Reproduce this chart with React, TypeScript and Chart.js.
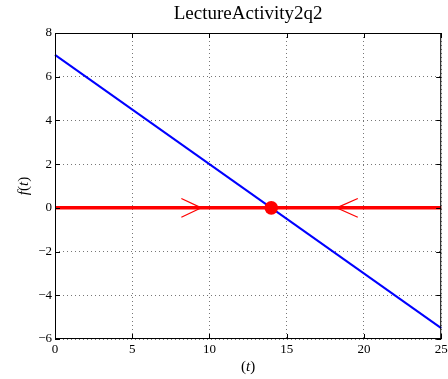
import React, { useEffect, useRef } from "react";
import { Chart, registerables } from "chart.js";

Chart.register(...registerables);

const titleText = "LectureActivity2q2";
const lineT = [0, 25];
const lineF = [7, -5.5];
const axisT = [0, 25];
const axisF = [0, 0];
const equilibriumT = [14];
const equilibriumF = [0];
const arrowRightT = [8.18, 9.47, 8.18];
const arrowRightF = [0.43, 0, -0.43];
const arrowLeftT = [19.6, 18.23, 19.6];
const arrowLeftF = [0.43, 0, -0.43];
const xTicks = [0, 5, 10, 15, 20, 25];
const yTicks = [-6, -4, -2, 0, 2, 4, 6, 8];

const pts = (xs: number[], ys: number[]) => xs.map((x, i) => ({ x, y: ys[i] }));
const fmt = (v: number) => (v < 0 ? "\u2212" + Math.abs(v) : String(v));
const SERIF = "'Liberation Serif', 'DejaVu Serif', serif";

const framePlugin = {
  id: "frame",
  afterDraw(chart: any) {
    const { ctx, chartArea: a, scales } = chart;
    ctx.save();
    ctx.strokeStyle = "#000";
    ctx.lineWidth = 1;
    ctx.strokeRect(a.left + 0.5, a.top + 0.5, a.right - a.left - 1, a.bottom - a.top - 1);
    const tl = 5;
    ctx.beginPath();
    xTicks.forEach((v) => {
      const x = Math.round(scales.x.getPixelForValue(v)) + 0.5;
      ctx.moveTo(x, a.bottom);
      ctx.lineTo(x, a.bottom - tl);
      ctx.moveTo(x, a.top);
      ctx.lineTo(x, a.top + tl);
    });
    yTicks.forEach((v) => {
      const y = Math.round(scales.y.getPixelForValue(v)) + 0.5;
      ctx.moveTo(a.left, y);
      ctx.lineTo(a.left + tl, y);
      ctx.moveTo(a.right, y);
      ctx.lineTo(a.right - tl, y);
    });
    ctx.stroke();

    ctx.fillStyle = "#000";
    ctx.textBaseline = "middle";
    ctx.textAlign = "center";
    ctx.font = `19px ${SERIF}`;
    const cx = (a.left + a.right) / 2;
    ctx.fillText(titleText, cx, 14);

    const drawMixed = (parts: [string, boolean][], x: number, y: number) => {
      let total = 0;
      parts.forEach(([s, it]) => {
        ctx.font = `${it ? "italic " : ""}15px ${SERIF}`;
        total += ctx.measureText(s).width;
      });
      let px = x - total / 2;
      ctx.textAlign = "left";
      parts.forEach(([s, it]) => {
        ctx.font = `${it ? "italic " : ""}15px ${SERIF}`;
        ctx.fillText(s, px, y);
        px += ctx.measureText(s).width;
      });
    };
    drawMixed([["(", false], ["t", true], [")", false]], cx, 367);
    ctx.save();
    ctx.translate(24, (a.top + a.bottom) / 2);
    ctx.rotate(-Math.PI / 2);
    drawMixed([["f", true], ["(", false], ["t", true], [")", false]], 0, 0);
    ctx.restore();
    ctx.restore();
  },
};

export default function App() {
  const ref = useRef<HTMLCanvasElement>(null);
  useEffect(() => {
    document.body.style.margin = "0";
    const chart = new Chart(ref.current!, {
      type: "scatter",
      data: {
        datasets: [
          { data: pts(lineT, lineF), order: 5, showLine: true, borderColor: "#0000ff", borderWidth: 2, pointRadius: 0 },
          { data: pts(axisT, axisF), order: 4, showLine: true, borderColor: "#ff0000", borderWidth: 3.5, pointRadius: 0 },
          { data: pts(arrowRightT, arrowRightF), order: 3, showLine: true, borderColor: "#ff0000", borderWidth: 1.2, pointRadius: 0 },
          { data: pts(arrowLeftT, arrowLeftF), order: 2, showLine: true, borderColor: "#ff0000", borderWidth: 1.2, pointRadius: 0 },
          { data: pts(equilibriumT, equilibriumF), order: 0, showLine: false, backgroundColor: "#ff0000", borderColor: "#ff0000", pointRadius: 6.8, borderWidth: 0 },
        ],
      },
      options: {
        animation: false,
        responsive: false,
        clip: false as any,
        layout: { padding: { top: 33, right: 5, left: 0, bottom: 0 } },
        plugins: { legend: { display: false }, tooltip: { enabled: false }, title: { display: false } },
        scales: {
          x: {
            type: "linear",
            min: 0,
            max: 25,
            afterBuildTicks: (s: any) => { s.ticks = xTicks.map((v) => ({ value: v })); },
            afterFit: (s: any) => { s.height = 40; s.paddingRight = 0; s.paddingLeft = 0; },
            ticks: { color: "#000", font: { family: SERIF, size: 13 }, padding: 3, callback: (v: any) => fmt(Number(v)), maxRotation: 0, autoSkip: false },
            grid: { color: "#777", lineWidth: 1, drawTicks: false },
            border: { display: false, dash: [1, 3] },
          },
          y: {
            type: "linear",
            min: -6,
            max: 8,
            afterBuildTicks: (s: any) => { s.ticks = yTicks.map((v) => ({ value: v })); },
            afterFit: (s: any) => { s.width = 55; s.paddingTop = 0; s.paddingBottom = 0; },
            ticks: { color: "#000", font: { family: SERIF, size: 13 }, padding: 3, callback: (v: any) => fmt(Number(v)), autoSkip: false },
            grid: { color: "#777", lineWidth: 1, drawTicks: false },
            border: { display: false, dash: [1, 3] },
          },
        },
      },
      plugins: [framePlugin],
    });
    return () => chart.destroy();
  }, []);
  return (
    <div style={{ width: 448, height: 379, background: "#fff" }}>
      <canvas ref={ref} width={448} height={379} style={{ display: "block" }} />
    </div>
  );
}
